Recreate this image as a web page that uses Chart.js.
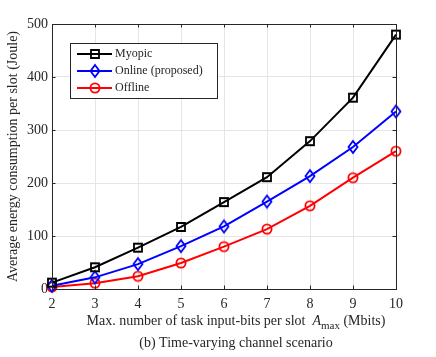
<!DOCTYPE html>
<html>
<head>
<meta charset="utf-8">
<script src="https://cdn.jsdelivr.net/npm/chart.js@4/dist/chart.umd.min.js"></script>
<style>
  html, body { margin: 0; padding: 0; background: #fff; }
  #wrap { width: 436px; height: 357px; position: relative; }
</style>
</head>
<body>
<div id="wrap"><canvas id="energyChart" width="436" height="357"></canvas></div>
<script>
// --- Data ---
const amaxLabels = [2, 3, 4, 5, 6, 7, 8, 9, 10];
const myopicEnergy = [12, 41, 78, 117, 164, 211, 279, 361, 480];
const onlineEnergy = [6, 22, 47, 81, 118, 165, 213, 268, 335];
const offlineEnergy = [4, 11, 24, 49, 80, 113, 157, 210, 260];
const yTicks = [0, 100, 200, 300, 400, 500];

const FONT = "'Liberation Serif', 'DejaVu Serif', serif";
const TEXT = '#262626';

// MATLAB-style hollow markers
function makeMarker(kind, color) {
    const c = document.createElement('canvas');
    c.width = 16; c.height = 16;
    const g = c.getContext('2d');
    g.strokeStyle = color;
    g.lineWidth = 1.8;
    g.beginPath();
    if (kind === 'square') {
        g.rect(4, 4, 8, 8);
    } else if (kind === 'diamond') {
        g.moveTo(8, 2); g.lineTo(12.5, 8); g.lineTo(8, 14); g.lineTo(3.5, 8); g.closePath();
    } else {
        g.arc(8, 8, 4.6, 0, Math.PI * 2);
    }
    g.stroke();
    return c;
}

const series = [
    { label: 'Myopic', data: myopicEnergy, color: '#000000', marker: makeMarker('square', '#000000') },
    { label: 'Online (proposed)', data: onlineEnergy, color: '#0000ff', marker: makeMarker('diamond', '#0000ff') },
    { label: 'Offline', data: offlineEnergy, color: '#ff0000', marker: makeMarker('circle', '#ff0000') }
];

// Box, inward ticks, titles, legend
const decorPlugin = {
    id: 'decor',
    afterDraw(chart) {
        const ctx = chart.ctx;
        const a = chart.chartArea;
        const xs = chart.scales.x, ys = chart.scales.y;
        ctx.save();
        // inward ticks
        ctx.strokeStyle = TEXT;
        ctx.lineWidth = 1;
        amaxLabels.forEach((v, i) => {
            const px = Math.round(xs.getPixelForValue(i)) + 0.5;
            ctx.beginPath();
            ctx.moveTo(px, a.bottom); ctx.lineTo(px, a.bottom - 3.5);
            ctx.moveTo(px, a.top); ctx.lineTo(px, a.top + 3.5);
            ctx.stroke();
        });
        yTicks.forEach(v => {
            const py = Math.round(ys.getPixelForValue(v)) + 0.5;
            ctx.beginPath();
            ctx.moveTo(a.left, py); ctx.lineTo(a.left + 3.5, py);
            ctx.moveTo(a.right, py); ctx.lineTo(a.right - 3.5, py);
            ctx.stroke();
        });
        // axes box
        ctx.strokeRect(Math.round(a.left) + 0.5, Math.round(a.top) + 0.5,
            Math.round(a.right - a.left), Math.round(a.bottom - a.top));

        // y title
        ctx.fillStyle = TEXT;
        ctx.font = '14px ' + FONT;
        ctx.textAlign = 'center';
        ctx.textBaseline = 'middle';
        ctx.save();
        ctx.translate(13, (a.top + a.bottom) / 2);
        ctx.rotate(-Math.PI / 2);
        ctx.fillText('Average energy consumption per slot (Joule)', 0, 0);
        ctx.restore();

        // x title with subscript
        const part1 = 'Max. number of task input-bits per slot  ';
        const part3 = ' (Mbits)';
        ctx.font = '14px ' + FONT;
        const w1 = ctx.measureText(part1).width;
        const w3 = ctx.measureText(part3).width;
        ctx.font = 'italic 14px ' + FONT;
        const wA = ctx.measureText('A').width;
        ctx.font = '11px ' + FONT;
        const wSub = ctx.measureText('max').width;
        const total = w1 + wA + wSub + w3;
        let x0 = (a.left + a.right) / 2 + 12 - total / 2;
        const ty = 321;
        ctx.textAlign = 'left';
        ctx.font = '14px ' + FONT;
        ctx.fillText(part1, x0, ty);
        x0 += w1;
        ctx.font = 'italic 14px ' + FONT;
        ctx.fillText('A', x0, ty);
        x0 += wA;
        ctx.font = '11px ' + FONT;
        ctx.fillText('max', x0, ty + 5);
        x0 += wSub;
        ctx.font = '14px ' + FONT;
        ctx.fillText(part3, x0, ty);

        // caption
        ctx.textAlign = 'center';
        ctx.fillText('(b) Time-varying channel scenario', 236, 343);

        // legend
        const lx = 70, ly = 43, lw = 147, lh = 55;
        ctx.fillStyle = '#fff';
        ctx.fillRect(lx, ly, lw, lh);
        ctx.strokeStyle = TEXT;
        ctx.lineWidth = 1;
        ctx.strokeRect(lx + 0.5, ly + 0.5, lw, lh);
        series.forEach((s, i) => {
            const y = ly + 11 + i * 17;
            ctx.strokeStyle = s.color;
            ctx.lineWidth = 2;
            ctx.beginPath();
            ctx.moveTo(77, y); ctx.lineTo(112, y);
            ctx.stroke();
            ctx.drawImage(s.marker, 95 - 8, y - 8);
            ctx.fillStyle = TEXT;
            ctx.textAlign = 'left';
            ctx.font = '12px ' + FONT;
            ctx.fillText(s.label, 115, y);
        });
        ctx.restore();
    }
};

new Chart(document.getElementById('energyChart'), {
    type: 'line',
    data: {
        labels: amaxLabels,
        datasets: series.map(s => ({
            label: s.label,
            data: s.data,
            borderColor: s.color,
            backgroundColor: s.color,
            borderWidth: 2,
            pointStyle: s.marker,
            pointRadius: 6,
            tension: 0,
            clip: false
        }))
    },
    options: {
        responsive: false,
        animation: false,
        devicePixelRatio: 1,
        layout: { padding: { top: 24, right: 40, left: 0, bottom: 0 } },
        plugins: {
            legend: { display: false },
            tooltip: { enabled: false }
        },
        scales: {
            x: {
                offset: false,
                grid: { color: '#e5e5e5', drawTicks: false },
                border: { display: false },
                ticks: {
                    color: TEXT, padding: 7, maxRotation: 0,
                    font: { family: FONT, size: 14 }
                },
                afterFit(scale) { scale.height = 68; }
            },
            y: {
                min: 0, max: 500,
                grid: { color: '#e5e5e5', drawTicks: false },
                border: { display: false },
                ticks: {
                    stepSize: 100, color: TEXT, padding: 4,
                    font: { family: FONT, size: 14 }
                },
                afterFit(scale) { scale.width = 52; }
            }
        }
    },
    plugins: [decorPlugin]
});
</script>
</body>
</html>
